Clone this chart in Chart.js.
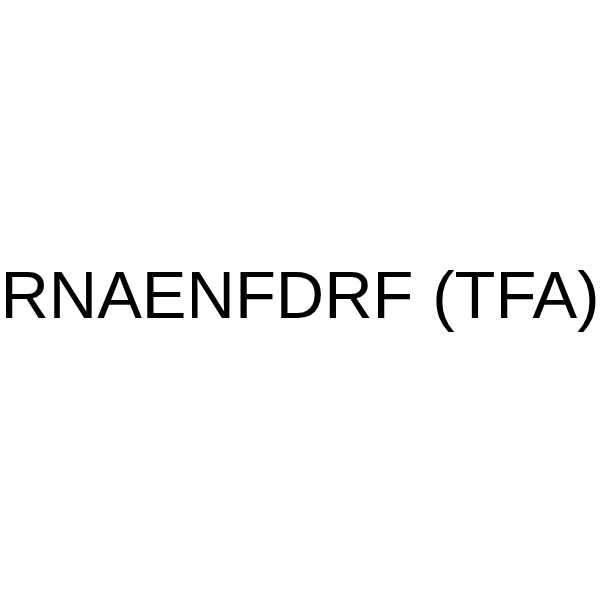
<!DOCTYPE html>
<html>
<head>
<meta charset="utf-8">
<script src="https://cdn.jsdelivr.net/npm/chart.js@4/dist/chart.umd.min.js"></script>
<style>
  html, body { margin: 0; padding: 0; background: #fff; }
  #wrap { width: 600px; height: 600px; }
</style>
</head>
<body>
<div id="wrap"><canvas id="chart"></canvas></div>
<script>
// the picture is only a product label, no plotted series
const LABELS = [];
const VALUES = [];
const CAPTION = "RNAENFDRF (TFA)";

// draws the caption in the middle of the canvas
const captionPlugin = {
  id: "caption",
  afterDraw(chart) {
    const ctx = chart.ctx;
    ctx.save();
    ctx.fillStyle = "#000";
    ctx.font = '67px "Liberation Sans", Arial, sans-serif';
    ctx.textAlign = "center";
    ctx.textBaseline = "alphabetic";
    ctx.fillText(CAPTION, chart.width / 2, 318);
    ctx.restore();
  },
};

new Chart(document.getElementById("chart"), {
  type: "bar",
  data: {
    labels: LABELS,
    datasets: [{ label: CAPTION, data: VALUES }],
  },
  options: {
    responsive: true,
    maintainAspectRatio: false,
    animation: false,
    scales: { x: { display: false }, y: { display: false } },
    plugins: { legend: { display: false }, tooltip: { enabled: false } },
  },
  plugins: [captionPlugin],
});
</script>
</body>
</html>
